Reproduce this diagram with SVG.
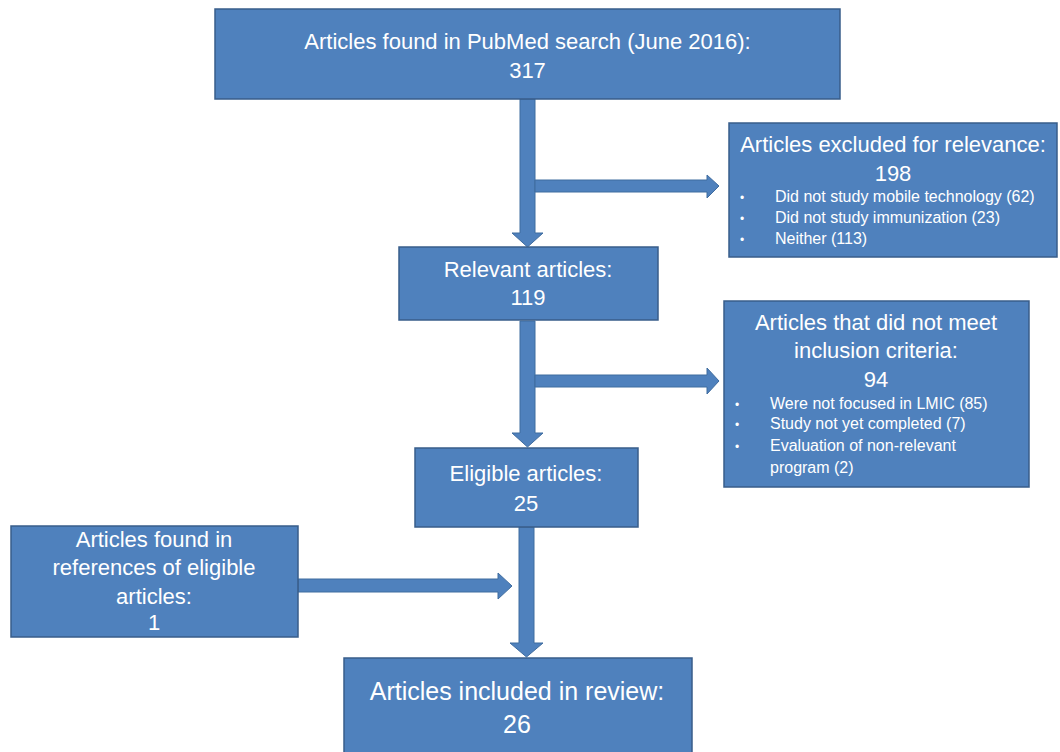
<svg xmlns="http://www.w3.org/2000/svg" width="1060" height="752" viewBox="0 0 1060 752">
<style>
.box{fill:#4F81BD;stroke:#385D8A;stroke-width:1.5}
.arr{fill:#4F81BD;stroke:#3F6C9F;stroke-width:1}
text{font-family:"Liberation Sans",Arial,sans-serif;fill:#FFFFFF}
.t{font-size:22px;text-anchor:middle}
.ts{font-size:22px;text-anchor:middle}
.tb{font-size:25px;text-anchor:middle}
.b{font-size:16px}
.bul{font-size:12px}
</style>
<rect width="1060" height="752" fill="#FFFFFF"/>
<g id="connectors">
<polygon class="arr" points="520,99 535,99 535,233 543,233 527.5,247 512,233 520,233"/>
<polygon class="arr" points="535,180 707,180 707,175 719,186 707,198 707,192 535,192"/>
<polygon class="arr" points="520,321 535,321 535,433 543,433 527.5,447 512,433 520,433"/>
<polygon class="arr" points="535,375 707,375 707,368 719,381 707,394 707,387 535,387"/>
<polygon class="arr" points="519,527 534,527 534,643 543,643 526.5,657 510,643 519,643"/>
<polygon class="arr" points="298,579 498,579 498,573 512,586 498,599 498,592 298,592"/>
</g>
<g id="n-pubmed">
<rect class="box" x="215" y="9" width="625" height="90"/>
<text class="t" x="527.5" y="49">Articles found in PubMed search (June 2016):</text>
<text class="t" x="527.5" y="78">317</text>
</g>
<g id="n-excluded">
<rect class="box" x="729" y="123" width="328" height="134"/>
<text class="ts" x="893" y="152">Articles excluded for relevance:</text>
<text class="ts" x="893" y="181">198</text>
<text class="bul" x="740" y="202">•</text>
<text class="b" x="775" y="202">Did not study mobile technology (62)</text>
<text class="bul" x="740" y="223">•</text>
<text class="b" x="775" y="223">Did not study immunization (23)</text>
<text class="bul" x="740" y="244">•</text>
<text class="b" x="775" y="244">Neither (113)</text>
</g>
<g id="n-relevant">
<rect class="box" x="399" y="247" width="259" height="73"/>
<text class="t" x="528" y="277">Relevant articles:</text>
<text class="t" x="528" y="305">119</text>
</g>
<g id="n-criteria">
<rect class="box" x="724" y="301" width="305" height="186"/>
<text class="ts" x="876" y="330">Articles that did not meet</text>
<text class="ts" x="876" y="358">inclusion criteria:</text>
<text class="ts" x="876" y="387">94</text>
<text class="bul" x="735" y="409">•</text>
<text class="b" x="770" y="409">Were not focused in LMIC (85)</text>
<text class="bul" x="735" y="429">•</text>
<text class="b" x="770" y="429">Study not yet completed (7)</text>
<text class="bul" x="735" y="451">•</text>
<text class="b" x="770" y="451">Evaluation of non-relevant</text>
<text class="b" x="770" y="473">program (2)</text>
</g>
<g id="n-eligible">
<rect class="box" x="415" y="448" width="223" height="79"/>
<text class="t" x="526" y="481">Eligible articles:</text>
<text class="t" x="526" y="511">25</text>
</g>
<g id="n-references">
<rect class="box" x="11" y="526" width="287" height="111"/>
<text class="t" x="154" y="547">Articles found in</text>
<text class="t" x="154" y="575">references of eligible</text>
<text class="t" x="154" y="604">articles:</text>
<text class="t" x="154" y="630">1</text>
</g>
<g id="n-included">
<rect class="box" x="344" y="658" width="348" height="100"/>
<text class="tb" x="517" y="700">Articles included in review:</text>
<text class="tb" x="517" y="733">26</text>
</g>
</svg>
